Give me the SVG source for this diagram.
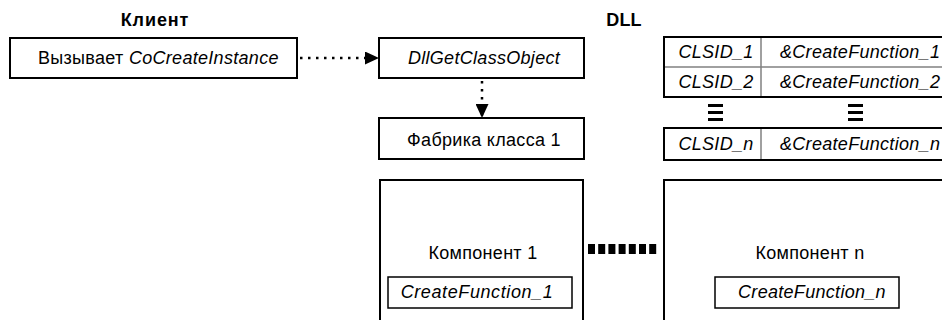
<svg xmlns="http://www.w3.org/2000/svg" width="942" height="320" viewBox="0 0 942 320">
<style>
text{font-family:"Liberation Sans",Arial,sans-serif;font-size:18px;letter-spacing:0.3px;fill:#000}
.b{font-weight:bold;font-size:18px;letter-spacing:0.2px}
.i{font-style:italic}
.c{text-anchor:middle}
.box{fill:#fff;stroke:#000;stroke-width:2}
.inner{fill:#fff;stroke:#000;stroke-width:1.5}
.grid{stroke:#808080;stroke-width:1.5;fill:none}
.dot{stroke:#000;stroke-width:2.5;stroke-dasharray:2.5 5.5;fill:none}
</style>
<defs>
<marker id="ah" markerWidth="14" markerHeight="13" refX="14" refY="6.5" orient="auto" markerUnits="userSpaceOnUse">
<path d="M0,0 L14,6.5 L0,13 Z" fill="#000"/>
</marker>
</defs>
<text class="b c" x="155" y="26" style="letter-spacing:0.9px">Клиент</text>
<text class="b c" x="624" y="26">DLL</text>
<g id="client">
<rect class="box" x="10" y="38" width="287" height="40"/>
<text x="38" y="64">Вызывает <tspan class="i">CoCreateInstance</tspan></text>
</g>
<g id="dllgetclassobject">
<rect class="box" x="379" y="38" width="205" height="40"/>
<text class="i c" x="484" y="64">DllGetClassObject</text>
</g>
<g id="factory1">
<rect class="box" x="379" y="118" width="205" height="41"/>
<text class="c" x="484" y="146">Фабрика класса 1</text>
</g>
<g id="component1">
<rect class="box" x="380" y="180" width="203" height="160"/>
<text class="c" x="483" y="259">Компонент 1</text>
<rect class="inner" x="388" y="277" width="184" height="31"/>
<text class="i c" x="477" y="298" style="letter-spacing:0.6px">CreateFunction_1</text>
</g>
<g id="componentn">
<rect class="box" x="664" y="180" width="300" height="160"/>
<text class="c" x="810" y="259">Компонент n</text>
<rect class="inner" x="715" y="277" width="184" height="31"/>
<text class="i c" x="812" y="298">CreateFunction_n</text>
</g>
<g id="clsid-table">
<rect class="box" x="664" y="37" width="300" height="60"/>
<line class="grid" x1="665" y1="67" x2="942" y2="67"/>
<line class="grid" x1="761" y1="38" x2="761" y2="96"/>
<text class="i c" x="716" y="58">CLSID_1</text>
<text class="i" x="780" y="58">&amp;CreateFunction_1</text>
<text class="i c" x="716" y="88">CLSID_2</text>
<text class="i" x="780" y="88">&amp;CreateFunction_2</text>
<g fill="#000">
<rect x="708" y="104" width="15" height="3"/>
<rect x="708" y="111" width="15" height="3"/>
<rect x="708" y="118" width="15" height="3"/>
<rect x="848" y="104" width="15" height="3"/>
<rect x="848" y="111" width="15" height="3"/>
<rect x="848" y="118" width="15" height="3"/>
</g>
<rect class="box" x="664" y="128" width="300" height="32"/>
<line class="grid" x1="761" y1="129" x2="761" y2="159"/>
<text class="i c" x="716" y="150">CLSID_n</text>
<text class="i" x="780" y="150">&amp;CreateFunction_n</text>
</g>
<g id="connectors">
<line class="dot" x1="300" y1="58" x2="379" y2="58" marker-end="url(#ah)"/>
<line class="dot" x1="482" y1="81" x2="482" y2="118" marker-end="url(#ah)"/>
<g fill="#000">
<rect x="588" y="244" width="7" height="10"/>
<rect x="598.2" y="244" width="7" height="10"/>
<rect x="608.4" y="244" width="7" height="10"/>
<rect x="618.6" y="244" width="7" height="10"/>
<rect x="628.8" y="244" width="7" height="10"/>
<rect x="639" y="244" width="7" height="10"/>
<rect x="649.2" y="244" width="7" height="10"/>
</g>
</g>
</svg>
